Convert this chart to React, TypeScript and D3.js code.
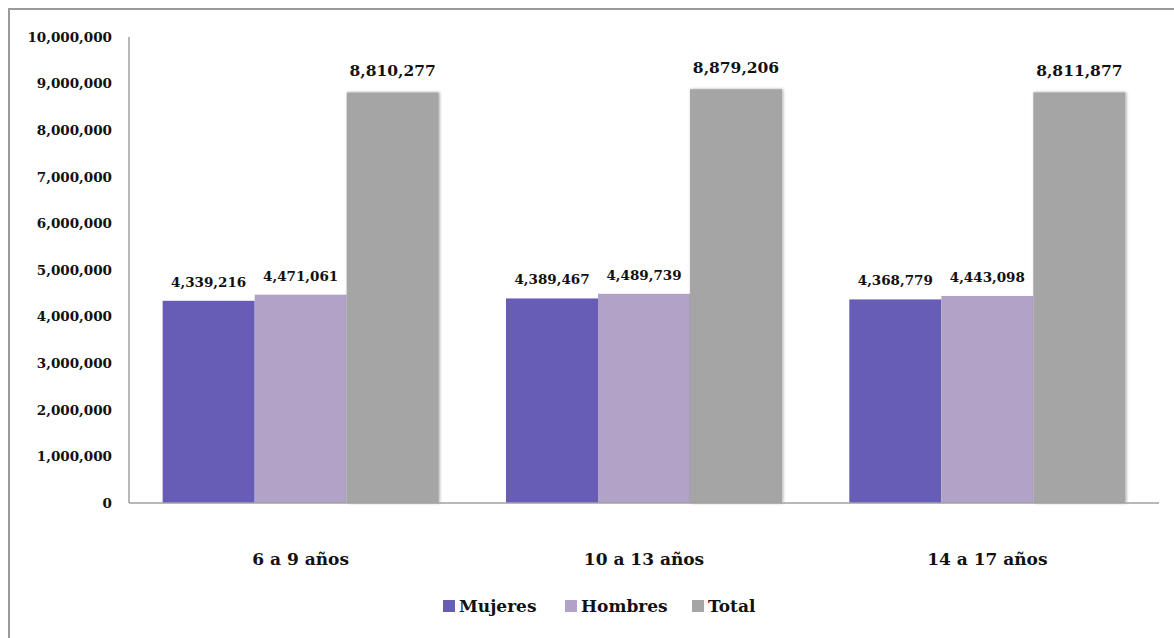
import React, { useRef, useEffect } from "react";
import * as d3 from "d3";

const categories = ["6 a 9 años", "10 a 13 años", "14 a 17 años"];
const seriesNames = ["Mujeres", "Hombres", "Total"];
const mujeres = [4339216, 4389467, 4368779];
const hombres = [4471061, 4489739, 4443098];
const total = [8810277, 8879206, 8811877];
const yTicks = [0, 1000000, 2000000, 3000000, 4000000, 5000000, 6000000, 7000000, 8000000, 9000000, 10000000];
const colors = ["#675db7", "#b2a2c8", "#a5a5a5"];

const App = () => {
	const svgRef = useRef<SVGSVGElement | null>(null);

	useEffect(() => {
		if (!svgRef.current) return;
		const svg = d3.select(svgRef.current);
		svg.selectAll("*").remove();

		const width = 1174;
		const height = 638;
		const font = "'DejaVu Serif', serif";
		const fmt = d3.format(",");

		// outer frame, cut off at right and bottom like the source
		svg.append("rect")
			.attr("x", 9)
			.attr("y", 9)
			.attr("width", width + 20)
			.attr("height", height + 20)
			.attr("fill", "#fff")
			.attr("stroke", "#9a9a9a")
			.attr("stroke-width", 2);

		const defs = svg.append("defs");
		const shadow = defs.append("filter").attr("id", "barShadow").attr("x", "-10%").attr("y", "-5%").attr("width", "120%").attr("height", "110%");
		shadow.append("feGaussianBlur").attr("in", "SourceAlpha").attr("stdDeviation", 1.5);
		shadow.append("feOffset").attr("dx", 1).attr("dy", 0).attr("result", "blur");
		shadow.append("feComponentTransfer").append("feFuncA").attr("type", "linear").attr("slope", 0.35);
		const merge = shadow.append("feMerge");
		merge.append("feMergeNode");
		merge.append("feMergeNode").attr("in", "SourceGraphic");

		const left = 129;
		const right = 1159;
		const top = 37;
		const bottom = 503;

		const x0 = d3.scaleBand().domain(categories).range([left, right]).paddingInner(0.196).paddingOuter(0.098);
		const x1 = d3.scaleBand().domain(seriesNames).range([0, x0.bandwidth()]).padding(0);
		const y = d3.scaleLinear().domain([0, 10000000]).range([bottom, top]);

		const data = [mujeres, hombres, total];

		// y tick labels
		svg.append("g")
			.selectAll("text")
			.data(yTicks)
			.join("text")
			.attr("x", left - 17)
			.attr("y", (d) => y(d))
			.attr("dy", "0.35em")
			.attr("text-anchor", "end")
			.attr("font-family", font)
			.attr("font-weight", "bold")
			.attr("font-size", 13.5)
			.attr("fill", "#111")
			.text((d) => fmt(d));

		// bars
		seriesNames.forEach((name, si) => {
			const g = svg.append("g");
			g.selectAll("rect")
				.data(categories)
				.join("rect")
				.attr("x", (c) => x0(c)! + x1(name)!)
				.attr("y", (c, i) => y(data[si][i]))
				.attr("width", x1.bandwidth())
				.attr("height", (c, i) => y(0) - y(data[si][i]))
				.attr("fill", colors[si])
				.attr("filter", si === 2 ? "url(#barShadow)" : null);
			g.selectAll("text")
				.data(categories)
				.join("text")
				.attr("x", (c) => x0(c)! + x1(name)! + x1.bandwidth() / 2)
				.attr("y", (c, i) => y(data[si][i]) - (si === 2 ? 16 : 14))
				.attr("text-anchor", "middle")
				.attr("font-family", font)
				.attr("font-weight", "bold")
				.attr("font-size", si === 2 ? 15.5 : 13.5)
				.attr("fill", "#111")
				.text((c, i) => fmt(data[si][i]));
		});

		// axes lines
		svg.append("line")
			.attr("x1", left).attr("x2", left)
			.attr("y1", top).attr("y2", bottom)
			.attr("stroke", "#a0a0a0").attr("stroke-width", 1.5);
		svg.append("line")
			.attr("x1", left).attr("x2", right)
			.attr("y1", bottom).attr("y2", bottom)
			.attr("stroke", "#a0a0a0").attr("stroke-width", 1.5);

		// category labels
		svg.append("g")
			.selectAll("text")
			.data(categories)
			.join("text")
			.attr("x", (c) => x0(c)! + x0.bandwidth() / 2)
			.attr("y", 559)
			.attr("dy", "0.35em")
			.attr("text-anchor", "middle")
			.attr("font-family", font)
			.attr("font-weight", "bold")
			.attr("font-size", 17)
			.attr("fill", "#111")
			.text((c) => c);

		// legend
		const legendX = [443, 565, 692];
		const legend = svg.append("g");
		seriesNames.forEach((name, i) => {
			legend.append("rect")
				.attr("x", legendX[i])
				.attr("y", 600)
				.attr("width", 12)
				.attr("height", 12)
				.attr("fill", colors[i]);
			legend.append("text")
				.attr("x", legendX[i] + 16)
				.attr("y", 606)
				.attr("dy", "0.35em")
				.attr("font-family", font)
				.attr("font-weight", "bold")
				.attr("font-size", 17)
				.attr("fill", "#111")
				.text(name);
		});
	}, []);

	return (
		<svg
			ref={svgRef}
			width={1174}
			height={638}
			style={{ position: "absolute", left: 0, top: 0, background: "#fff" }}
		></svg>
	);
};

export default App;
